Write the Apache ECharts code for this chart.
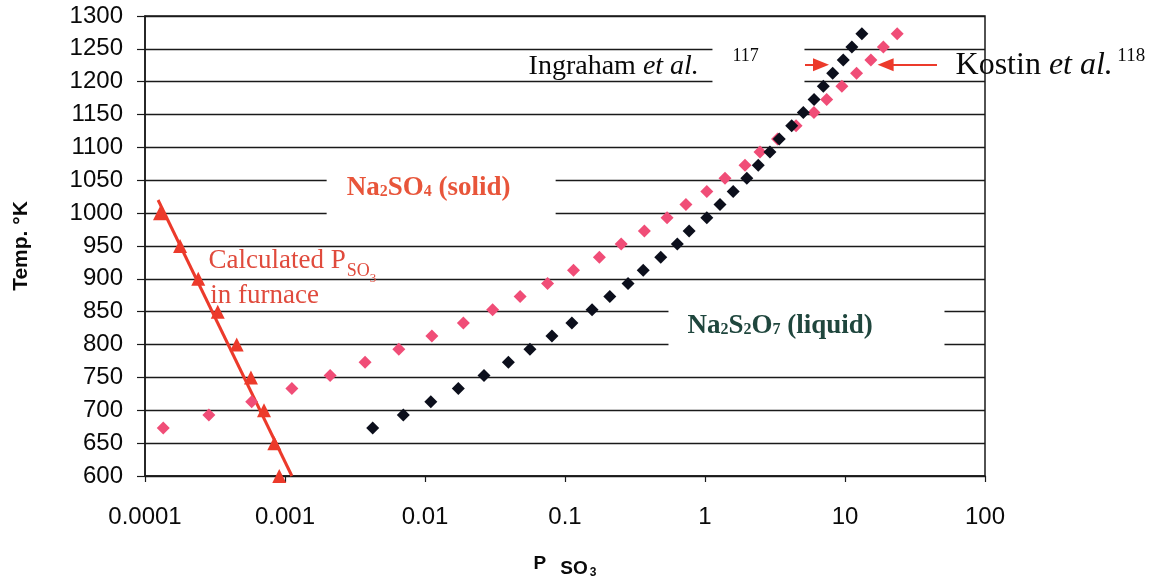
<!DOCTYPE html>
<html>
<head>
<meta charset="utf-8">
<script src="https://cdn.jsdelivr.net/npm/echarts@6/dist/echarts.min.js"></script>
<style>
  html, body { margin: 0; padding: 0; background: #fff; }
  #chart { width: 1158px; height: 584px; }
</style>
</head>
<body>
<div id="chart"></div>
<script>
// Temperatures (K) of the measured decomposition points, 400–1000 °C in 20 °C steps
const temps = [673, 693, 713, 733, 753, 773, 793, 813, 833, 853, 873, 893, 913, 933, 953,
               973, 993, 1013, 1033, 1053, 1073, 1093, 1113, 1133, 1153, 1173, 1193, 1213,
               1233, 1253, 1273];

// Kostin et al. (118): P SO3 at each temperature
const kostinP = [1.35e-4, 2.86e-4, 5.78e-4, 1.12e-3, 2.1e-3, 3.73e-3, 6.5e-3, 0.0112, 0.0188,
                 0.0304, 0.0478, 0.0751, 0.115, 0.176, 0.252, 0.369, 0.536, 0.731, 1.03, 1.39,
                 1.93, 2.47, 3.3, 4.47, 6.0, 7.4, 9.5, 12.1, 15.3, 18.8, 23.6];

// Ingraham et al. (117): P SO3 at each temperature
const ingrahamP = [4.23e-3, 7.0e-3, 0.0110, 0.0173, 0.0264, 0.0394, 0.0562, 0.0807, 0.112,
                   0.156, 0.209, 0.282, 0.362, 0.483, 0.634, 0.77, 1.03, 1.28, 1.59, 1.99,
                   2.40, 2.91, 3.39, 4.16, 5.04, 6.01, 7.0, 8.17, 9.72, 11.2, 13.2];

// Calculated P SO3 in the furnace
const calcTemps = [1000, 950, 900, 850, 800, 750, 700, 650, 600];
const calcP = [1.28e-4, 1.78e-4, 2.40e-4, 3.31e-4, 4.52e-4, 5.71e-4, 7.08e-4, 8.39e-4, 9.1e-4];

// Straight fit through the calculated points
const trendP = [1.24e-4, 1.12e-3];
const trendT = [1020, 600];

// Axis ticks
const xTickLabels = ['0.0001', '0.001', '0.01', '0.1', '1', '10', '100'];
const yTickMin = 600, yTickMax = 1300, yTickStep = 50;

const SANS = '"Liberation Sans", Arial, sans-serif';
const SERIF = '"Liberation Serif", "Times New Roman", serif';
const RED = '#ec3a2b';
const PINK = '#f04d77';
const DARK = '#0c0f1c';
const ORANGE = '#e8553a';
const GREEN = '#1f463d';
const INK = '#0a0a0a';

const zip = (xs, ys) => xs.map((x, i) => [x, ys[i]]);

// Text annotations placed in data coordinates
const notes = [
  { // Na2SO4 (solid) on a white box
    value: [2.0e-3, 1057.6],
    label: {
      position: [0, 0], backgroundColor: '#fff', padding: [0, 0, 17, 20], width: 209,
      formatter: '{b|Na}{s|2}{b|SO}{s|4}{b| (solid)}',
      rich: {
        b: { fontFamily: SERIF, fontWeight: 'bold', fontSize: 27, color: ORANGE, lineHeight: 26 },
        s: { fontFamily: SERIF, fontWeight: 'bold', fontSize: 16, color: ORANGE, lineHeight: 16, padding: [8, 0, 0, 0] }
      }
    }
  },
  { // Na2S2O7 (liquid) on a white box
    value: [0.553, 854.4],
    label: {
      position: [0, 0], backgroundColor: '#fff', padding: [5, 0, 8, 19], width: 257,
      formatter: '{b|Na}{s|2}{b|S}{s|2}{b|O}{s|7}{b| (liquid)}',
      rich: {
        b: { fontFamily: SERIF, fontWeight: 'bold', fontSize: 27, color: GREEN, lineHeight: 26 },
        s: { fontFamily: SERIF, fontWeight: 'bold', fontSize: 16, color: GREEN, lineHeight: 16, padding: [8, 0, 0, 0] }
      }
    }
  },
  { // Calculated P SO3 (first line)
    value: [2.82e-4, 927.4],
    label: {
      position: 'right', distance: 0,
      formatter: '{t|Calculated P}{s|SO}{n|3}',
      rich: {
        t: { fontFamily: SERIF, fontSize: 27, color: '#e04a3c', lineHeight: 28 },
        s: { fontFamily: SERIF, fontSize: 18, color: '#e04a3c', lineHeight: 18, padding: [20, 0, 0, 1] },
        n: { fontFamily: SERIF, fontSize: 13, color: '#e04a3c', lineHeight: 13, padding: [35, 0, 0, 0] }
      }
    }
  },
  { // in furnace (second line)
    value: [2.9e-4, 874],
    label: {
      position: 'right', distance: 0,
      formatter: 'in furnace',
      fontFamily: SERIF, fontSize: 27, color: '#e04a3c'
    }
  },
  { // Ingraham et al.
    value: [0.0545, 1223],
    label: {
      position: 'right', distance: 0,
      formatter: '{t|Ingraham }{i|et al.}',
      rich: {
        t: { fontFamily: SERIF, fontSize: 28, color: INK },
        i: { fontFamily: SERIF, fontSize: 28, fontStyle: 'italic', color: INK }
      }
    }
  },
  { // reference number 117 on a white box
    value: [1.14, 1257.8],
    label: {
      position: [0, 0], backgroundColor: '#fff', padding: [4, 0, 22, 20], width: 72,
      formatter: '117', fontFamily: SERIF, fontSize: 18, lineHeight: 18, color: INK
    }
  },
  { // Kostin et al. 118
    value: [61.1, 1224],
    label: {
      position: 'right', distance: 0,
      formatter: '{t|Kostin }{i|et al.}{g| }{u|118}',
      rich: {
        t: { fontFamily: SERIF, fontSize: 32, color: INK },
        i: { fontFamily: SERIF, fontSize: 32, fontStyle: 'italic', color: INK },
        g: { fontFamily: SERIF, fontSize: 18 },
        u: { fontFamily: SERIF, fontSize: 19, color: INK, lineHeight: 19, padding: [0, 0, 19, 0] }
      }
    }
  }
];

const chart = echarts.init(document.getElementById('chart'), null, { renderer: 'canvas' });

chart.setOption({
  animation: false,
  backgroundColor: '#fff',
  grid: {
    left: 145, right: 173, top: 16, bottom: 103,
    show: true, borderColor: '#1a1a1a', borderWidth: 1.5, backgroundColor: 'transparent'
  },
  xAxis: {
    type: 'log', logBase: 10, min: 1e-4, max: 100, splitNumber: 6,
    name: '{p|P}{s|SO}{n|3}', nameLocation: 'middle', nameGap: 72,
    nameTextStyle: {
      rich: {
        p: { fontFamily: SANS, fontWeight: 'bold', fontSize: 19, color: INK },
        s: { fontFamily: SANS, fontWeight: 'bold', fontSize: 19, color: INK, padding: [10, 0, 0, 14] },
        n: { fontFamily: SANS, fontWeight: 'bold', fontSize: 12, color: INK, padding: [19, 0, 0, 2] }
      }
    },
    axisLine: { show: true, lineStyle: { color: '#1a1a1a', width: 1.5 } },
    axisTick: { show: true, inside: false, length: 6, lineStyle: { color: '#1a1a1a', width: 1.2 } },
    minorTick: { show: false },
    splitLine: { show: false },
    axisLabel: {
      margin: 29, fontFamily: SANS, fontSize: 24, color: INK,
      formatter: v => xTickLabels[Math.round(Math.log10(v)) + 4]
    }
  },
  yAxis: {
    type: 'value', min: yTickMin, max: yTickMax, interval: yTickStep,
    name: 'Temp. °K', nameLocation: 'middle', nameGap: 113,
    nameTextStyle: { fontFamily: SANS, fontWeight: 'bold', fontSize: 21, color: INK },
    axisLine: { show: true, lineStyle: { color: '#1a1a1a', width: 1.5 } },
    axisTick: { show: true, inside: false, length: 8, lineStyle: { color: '#1a1a1a', width: 1.2 } },
    splitLine: { show: true, lineStyle: { color: '#1a1a1a', width: 1.3 } },
    axisLabel: { margin: 22, fontFamily: SANS, fontSize: 24, color: INK, formatter: v => String(v) }
  },
  series: [
    {
      name: 'Calculated fit', type: 'line', data: zip(trendP, trendT),
      showSymbol: false, symbol: 'none',
      lineStyle: { color: RED, width: 3, opacity: 1 }, z: 2
    },
    {
      name: 'Kostin et al.', type: 'scatter', data: zip(kostinP, temps),
      symbol: 'diamond', symbolSize: 13, itemStyle: { color: PINK, opacity: 1 }, z: 3
    },
    {
      name: 'Ingraham et al.', type: 'scatter', data: zip(ingrahamP, temps),
      symbol: 'diamond', symbolSize: 13, itemStyle: { color: DARK, opacity: 1 }, z: 4
    },
    {
      name: 'Calculated P SO3', type: 'scatter', data: zip(calcP, calcTemps),
      symbol: 'triangle', symbolSize: 14, itemStyle: { color: RED, opacity: 1 }, clip: false, z: 5
    },
    {
      name: 'Annotations', type: 'scatter', clip: false, silent: true, z: 6,
      symbolSize: 1, itemStyle: { color: 'rgba(0,0,0,0)', opacity: 1 },
      data: notes.map(n => ({ value: n.value, label: Object.assign({ show: true, opacity: 1 }, n.label) })),
      markLine: {
        silent: true,
        symbol: ['none', 'triangle'], symbolSize: [13, 16],
        lineStyle: { color: RED, width: 2, type: 'solid', opacity: 1 },
        label: { show: false },
        data: [
          [{ coord: [5.18, 1226] }, { coord: [6.74, 1226] }],
          [{ coord: [45.4, 1226] }, { coord: [19.5, 1226] }]
        ]
      }
    }
  ]
});
</script>
</body>
</html>
